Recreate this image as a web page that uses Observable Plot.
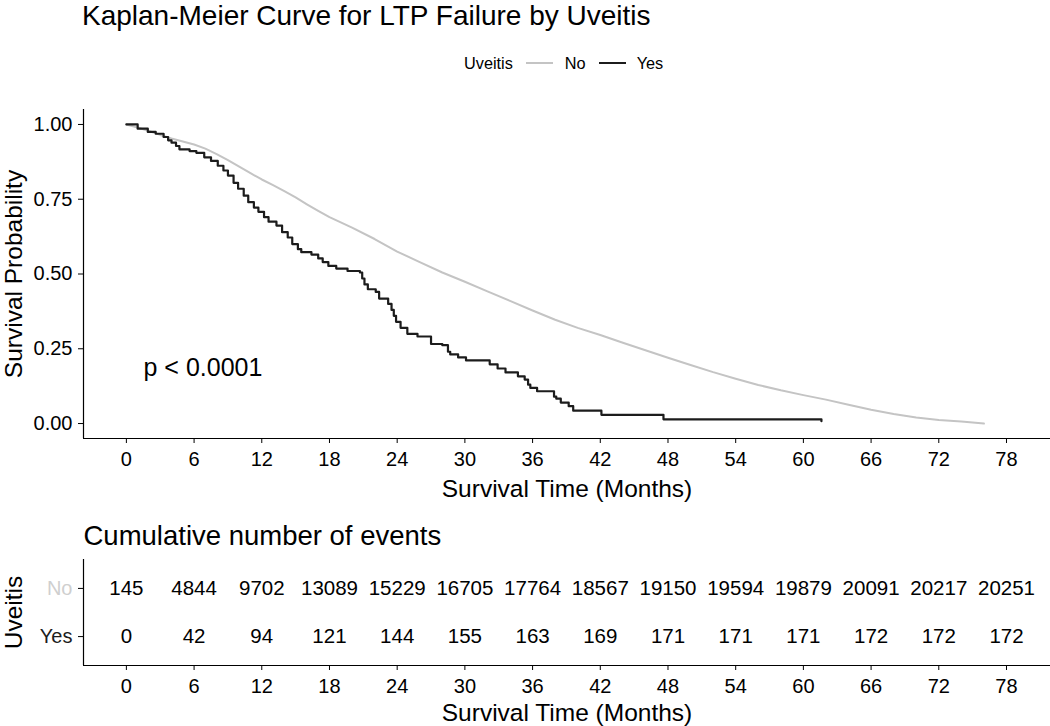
<!DOCTYPE html>
<html>
<head>
<meta charset="utf-8">
<script src="https://cdn.jsdelivr.net/npm/d3@7"></script>
<script src="https://cdn.jsdelivr.net/npm/@observablehq/plot@0.6"></script>
<style>
  body { margin: 0; background: #fff; font-family: "Liberation Sans", Arial, sans-serif; }
  #wrap { position: relative; width: 1050px; height: 726px; overflow: hidden; background: #fff; }
  #kmTop { position: absolute; left: 0; top: 0; }
  #risk { position: absolute; left: 0; top: 506px; }
  #title { position: absolute; left: 82px; top: 2px; font-size: 28px; line-height: 28px; color: #000; white-space: nowrap; }
  #legend { position: absolute; left: 464px; top: 53px; height: 20px; font-size: 16.3px; line-height: 20px; color: #000;
            white-space: nowrap; display: flex; align-items: center; }
  #legend .key { display: inline-block; width: 27px; height: 2.4px; }
</style>
</head>
<body>
<div id="wrap">
  <div id="kmTop"></div>
  <div id="risk"></div>
  <div id="title"></div>
  <div id="legend"></div>
</div>
<script>
// ---------- data ----------
const chartTitle = "Kaplan-Meier Curve for LTP Failure by Uveitis";
const legendTitle = "Uveitis";
const strata = ["No", "Yes"];
const strataColors = ["#c4c4c4", "#1c1c1c"];
const riskLabelColors = ["#cfcfcf", "#1c1c1c"];
const xTitle = "Survival Time (Months)";
const yTitle = "Survival Probability";
const riskTitle = "Cumulative number of events";
const riskYTitle = "Uveitis";
const pValueText = "p < 0.0001";

const times = [0, 6, 12, 18, 24, 30, 36, 42, 48, 54, 60, 66, 72, 78];
const yTicks = [0, 0.25, 0.5, 0.75, 1.0];
const xDomain = [-3.8, 81.9];
const yDomain = [-0.05, 1.05];
const riskYDomain = [0.4, 2.6];

const noEvents  = [145, 4844, 9702, 13089, 15229, 16705, 17764, 18567, 19150, 19594, 19879, 20091, 20217, 20251];
const yesEvents = [0, 42, 94, 121, 144, 155, 163, 169, 171, 171, 171, 172, 172, 172];

// Survival curve, Uveitis = No
const noTime = [0, 1, 2, 3, 4, 5, 6, 7, 8, 9, 10, 11, 12, 13, 14, 15, 16, 17, 18, 20, 22, 24, 26, 28, 30, 32, 34, 36,
                38, 40, 42, 44, 46, 48, 50, 52, 54, 56, 58, 60, 62, 64, 66, 68, 70, 72, 74, 76];
const noSurv = [1.0, 0.99, 0.978, 0.965, 0.953, 0.943, 0.933, 0.919, 0.901, 0.881, 0.859, 0.837, 0.816, 0.797, 0.777,
                0.756, 0.733, 0.711, 0.690, 0.655, 0.617, 0.575, 0.540, 0.505, 0.474, 0.442, 0.410, 0.378, 0.347,
                0.320, 0.296, 0.270, 0.245, 0.220, 0.196, 0.172, 0.150, 0.129, 0.111, 0.095, 0.080, 0.063, 0.046,
                0.032, 0.020, 0.012, 0.007, 0.0];

// Survival curve, Uveitis = Yes (step function)
const yesTime = [0, 1.0, 1.9, 2.6, 3.3, 3.7, 4.0, 4.4, 4.7, 5.6, 6.2, 6.9, 7.5, 8.1, 8.6, 9.0, 9.5, 9.9, 10.4, 10.8,
                 11.3, 11.7, 12.2, 12.6, 13.3, 13.8, 14.3, 14.7, 15.2, 15.5, 16.4, 17.0, 17.4, 17.9, 18.6, 19.6, 20.7,
                 20.9, 21.1, 21.4, 22.1, 22.4, 23.2, 23.5, 23.7, 23.9, 24.3, 24.9, 25.8, 27.0, 28.0, 28.5, 28.7, 29.4,
                 30.1, 32.2, 32.9, 33.6, 34.7, 35.3, 35.6, 35.8, 36.4, 37.9, 38.1, 38.5, 39.2, 39.6, 42.1, 47.6, 61.6];
const yesSurv = [1.0, 0.986, 0.975, 0.969, 0.958, 0.947, 0.939, 0.928, 0.917, 0.911, 0.905, 0.890, 0.878, 0.862,
                 0.846, 0.829, 0.805, 0.785, 0.762, 0.740, 0.722, 0.708, 0.690, 0.675, 0.662, 0.640, 0.622, 0.600,
                 0.583, 0.573, 0.565, 0.552, 0.540, 0.527, 0.518, 0.510, 0.505, 0.485, 0.465, 0.449, 0.440, 0.418,
                 0.400, 0.380, 0.360, 0.340, 0.320, 0.300, 0.291, 0.266, 0.262, 0.240, 0.231, 0.221, 0.211, 0.198,
                 0.184, 0.171, 0.158, 0.147, 0.130, 0.119, 0.108, 0.090, 0.083, 0.070, 0.058, 0.043, 0.029, 0.014,
                 0.008];

// ---------- build tables ----------
const noData = noTime.map((t, i) => ({time: t, surv: noSurv[i], strata: strata[0]}));
const yesData = yesTime.map((t, i) => ({time: t, surv: yesSurv[i], strata: strata[1]}));
const riskData = times.flatMap((t, i) => [
  {time: t, strata: strata[0], n: noEvents[i]},
  {time: t, strata: strata[1], n: yesEvents[i]}
]);
const strataY = s => strata.length - strata.indexOf(s);

const font = "'Liberation Sans', Arial, sans-serif";

// ---------- main KM plot ----------
const kmPlot = Plot.plot({
  width: 1050,
  height: 506,
  marginTop: 109,
  marginBottom: 68,
  marginLeft: 83,
  marginRight: 0,
  style: {fontFamily: font, fontSize: "20px", color: "#000", background: "transparent"},
  x: {domain: xDomain},
  y: {domain: yDomain},
  marks: [
    Plot.ruleX([xDomain[0]], {stroke: "#000", strokeWidth: 1.2}),
    Plot.ruleY([yDomain[0]], {stroke: "#000", strokeWidth: 1.2}),
    Plot.axisX({ticks: times, tickSize: 5, tickPadding: 8, label: null, fontSize: 20, stroke: "#000"}),
    Plot.axisY({ticks: yTicks, tickFormat: d3.format(".2f"), tickSize: 5, tickPadding: 6, label: null, fontSize: 20, stroke: "#000"}),
    Plot.line(noData, {x: "time", y: "surv", stroke: strataColors[0], strokeWidth: 2}),
    Plot.line(yesData, {x: "time", y: "surv", stroke: strataColors[1], strokeWidth: 2.2, curve: "step-after"}),
    Plot.text([pValueText], {text: d => d, frameAnchor: "bottom-left", dx: 60, dy: -71, textAnchor: "start", lineAnchor: "middle", fontSize: 25, fill: "#000"}),
    Plot.text([xTitle], {text: d => d, frameAnchor: "bottom", dy: 51, textAnchor: "middle", lineAnchor: "middle", fontSize: 24.5, fill: "#000"}),
    Plot.text([yTitle], {text: d => d, frameAnchor: "left", dx: -69, rotate: -90, textAnchor: "middle", lineAnchor: "middle", fontSize: 24.5, fill: "#000"})
  ]
});
document.getElementById("kmTop").appendChild(kmPlot);

// ---------- risk table ----------
const riskPlot = Plot.plot({
  width: 1050,
  height: 220,
  marginTop: 53,
  marginBottom: 61,
  marginLeft: 83,
  marginRight: 0,
  style: {fontFamily: font, fontSize: "20px", color: "#000", background: "transparent"},
  x: {domain: xDomain},
  y: {domain: riskYDomain},
  marks: [
    Plot.ruleX([xDomain[0]], {stroke: "#000", strokeWidth: 1.2}),
    Plot.ruleY([riskYDomain[0]], {stroke: "#000", strokeWidth: 1.2}),
    Plot.axisX({ticks: times, tickSize: 5, tickPadding: 8, label: null, fontSize: 20, stroke: "#000"}),
    Plot.axisY({ticks: strata.map(strataY), tickFormat: v => strata[strata.length - v], tickSize: 5, tickPadding: 6,
                label: null, fontSize: 20, stroke: "#000",
                fill: v => riskLabelColors[strata.length - v]}),
    Plot.text(riskData, {x: "time", y: d => strataY(d.strata), text: d => String(d.n), fontSize: 20.5, fill: "#000"}),
    Plot.text([riskTitle], {text: d => d, frameAnchor: "top-left", dy: -23, textAnchor: "start", lineAnchor: "middle", fontSize: 27.5, fill: "#000"}),
    Plot.text([xTitle], {text: d => d, frameAnchor: "bottom", dy: 48, textAnchor: "middle", lineAnchor: "middle", fontSize: 24.5, fill: "#000"}),
    Plot.text([riskYTitle], {text: d => d, frameAnchor: "left", dx: -69, rotate: -90, textAnchor: "middle", lineAnchor: "middle", fontSize: 24.5, fill: "#000"})
  ]
});
document.getElementById("risk").appendChild(riskPlot);

// ---------- title & legend ----------
document.getElementById("title").textContent = chartTitle;
const leg = document.getElementById("legend");
const lt = document.createElement("span");
lt.textContent = legendTitle;
leg.appendChild(lt);
const gaps = [[13, 12], [13, 11]];
strata.forEach((s, i) => {
  const k = document.createElement("span");
  k.className = "key";
  k.style.background = strataColors[i];
  k.style.marginLeft = gaps[i][0] + "px";
  leg.appendChild(k);
  const t = document.createElement("span");
  t.textContent = s;
  t.style.marginLeft = gaps[i][1] + "px";
  leg.appendChild(t);
});
</script>
</body>
</html>
